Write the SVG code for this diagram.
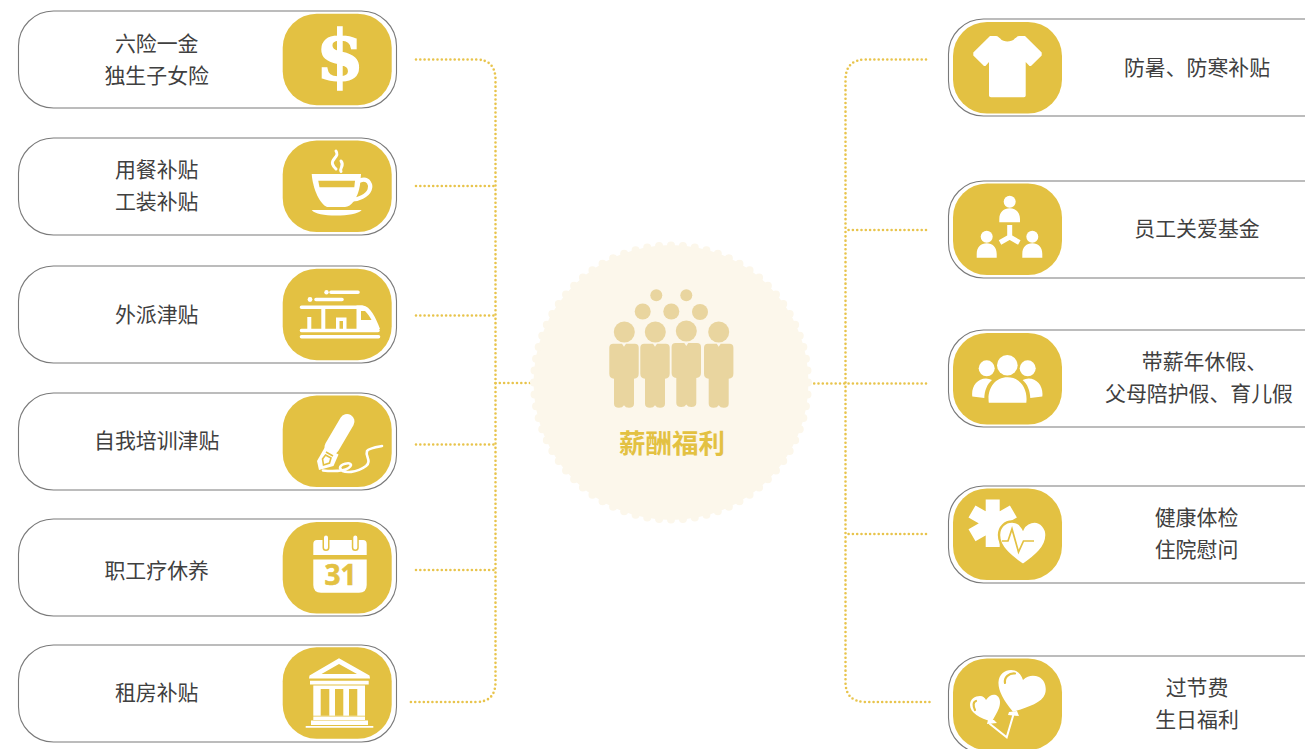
<svg xmlns="http://www.w3.org/2000/svg" width="1305" height="749" viewBox="0 0 1305 749">
<style>
.card{fill:#fff;stroke:#7a7a7a;stroke-width:1.1}
.tile{fill:#e3c142}
.lbl{font-family:"Noto Sans CJK SC","Noto Sans",sans-serif;font-size:20.9px;fill:#404040;text-anchor:middle}
.conn{fill:none;stroke:#e8c44c;stroke-width:2.6;stroke-linecap:round;stroke-dasharray:0 4.3}
.w{fill:#fff}
.ws{fill:none;stroke:#fff;stroke-linecap:round}
.g{fill:#e3c142}
.gs{fill:none;stroke:#e3c142}
</style>
<defs>
<g id="person">
<path fill="#e9d59f" d="M-10.7 0H-2L0 3 2 0H10.7Q14.7 0 14.7 4V30Q14.7 34.500 10 35V60Q10 64 5 64 1.500 64 0 61.500-1.500 64-5 64-10 64-10 60V35Q-14.700 34.500-14.700 30V4Q-14.700 0-10.700 0Z"/>
</g>
</defs>
<g id="connectors">
<path class="conn" d="M416 59.500H476Q495.500 59.500 495.500 80V682Q495.500 702 476 702H410"/>
<path class="conn" d="M416 186H495.500M416 315.500H495.500M416 444.500H495.500M416 570H495.500M495.500 383H530"/>
<path class="conn" d="M926 59.500H866Q845.500 59.500 845.500 80V682Q845.500 702 866 702H932"/>
<path class="conn" d="M926 230H845.500M926 534H845.500M926 383.500H812"/>
</g>
<g id="center">
<circle cx="671" cy="382.500" r="137.500" fill="#fcf7eb"/>
<circle cx="671" cy="382.500" r="137" fill="none" stroke="#fcf7eb" stroke-width="8" stroke-linecap="round" pathLength="72" stroke-dasharray="0 1"/>
<g fill="#e9d59f">
<circle cx="656.300" cy="295.300" r="6"/><circle cx="686.300" cy="295.300" r="6"/>
<circle cx="642.700" cy="311.500" r="8"/><circle cx="671.300" cy="311.500" r="8"/><circle cx="700" cy="312" r="8"/>
<circle cx="624.300" cy="332" r="10.500"/><circle cx="655.300" cy="332" r="10.500"/><circle cx="686.300" cy="331" r="10.500"/><circle cx="718.700" cy="332" r="10.500"/>
</g>
<use href="#person" x="624" y="343.700"/><use href="#person" x="655" y="343.700"/><use href="#person" x="686.300" y="343"/><use href="#person" x="718.700" y="343.700"/>
<text x="672" y="452.500" style="font-family:'Noto Sans CJK SC','Noto Sans',sans-serif;font-size:26.500px;font-weight:700;fill:#e3c142;text-anchor:middle">薪酬福利</text>
</g>
<g id="node-l1">
<rect class="card" x="18.500" y="11" width="378" height="97" rx="35"/>
<rect class="tile" x="282.700" y="13.700" width="109" height="91.500" rx="34"/>
<text x="340" y="80" text-anchor="middle" style="font-family:'DejaVu Serif',serif;font-weight:700;font-size:69px;fill:#fff;stroke:#fff;stroke-width:1.600">$</text>
<text class="lbl" x="156.700" y="51">六险一金</text><text class="lbl" x="156.700" y="83">独生子女险</text>
</g>
<g id="node-l2">
<rect class="card" x="18.500" y="138" width="378" height="97" rx="35"/>
<rect class="tile" x="282.700" y="140.500" width="109" height="91.500" rx="34"/>
<path class="w" d="M311.700 174H361L360 185C358 198 351 207 345 207H327C320 204 313 190 311.700 174Z"/>
<path class="g" d="M318.300 180.700H355L354.300 187.300H319.500Z"/>
<path class="ws" stroke-width="4.200" d="M360 180.500C369 177 371.500 186 369.500 190 367 196 358 199.500 353 199.500"/>
<path class="w" d="M311.700 210H361.700C358 214 348 215.500 336 215.500 324 215.500 315 214 311.700 210Z"/>
<path class="ws" stroke-width="3" d="M336 151C340 157 331 158 332.500 164 333.500 167 335 168 336 169M341 161C345 166 339 168 341 171.500"/>
<text class="lbl" x="156.700" y="177">用餐补贴</text><text class="lbl" x="156.700" y="209">工装补贴</text>
</g>
<g id="node-l3">
<rect class="card" x="18.500" y="266" width="378" height="97" rx="35"/>
<rect class="tile" x="282.700" y="268.700" width="109" height="91.500" rx="34"/>
<circle class="w" cx="326.500" cy="292.300" r="2.200"/><circle class="w" cx="310" cy="299.500" r="2.400"/>
<path class="ws" stroke-width="3.600" d="M331 292.300H358M316 299.500H342M301.500 307.300H362"/>
<path class="w" d="M356.500 305.500H363C370 306 376 318 380 329H356.500ZM307.300 317H311.300V330H307.300ZM321.300 307H325.300V330H321.300ZM336 317.500H346.500V330H343V321H339.500V330H336Z"/>
<path class="g" d="M361 311H365C368 314 370 317 371.500 320H361Z"/>
<path class="ws" stroke-width="3.600" d="M301.500 330.500H378M301.500 336.800H378.500"/>
<text class="lbl" x="156.700" y="322">外派津贴</text>
</g>
<g id="node-l4">
<rect class="card" x="18.500" y="393" width="378" height="97" rx="35"/>
<rect class="tile" x="282.700" y="395.500" width="109" height="91.500" rx="34"/>
<path d="M347 421.500L332 447" stroke="#fff" stroke-width="15" stroke-linecap="round"/>
<path class="w" d="M325 447L338.500 454.500 333.500 466 319 470 317 461Z"/>
<path class="gs" stroke-width="1.600" d="M326 452L333 456M322.500 459L325.500 455 331 458 329.500 463 323.500 465Z"/>
<path class="ws" stroke-width="2.600" d="M323 470.500C338 472 350 470 351 465 350 461.500 340 464 340 468 343 475 358 472 366 466 372 461 365 456 367 451 369 448 376 447 382 446"/>
<text class="lbl" x="156.700" y="448">自我培训津贴</text>
</g>
<g id="node-l5">
<rect class="card" x="18.500" y="519" width="378" height="97" rx="35"/>
<rect class="tile" x="282.700" y="522" width="109" height="91.500" rx="34"/>
<path class="w" d="M313.300 555V544Q313.300 540 317 540H363Q366.700 540 366.700 544V555ZM313.300 559.500H366.700V585Q366.700 592.700 359 592.700H321Q313.300 592.700 313.300 585Z"/>
<path d="M326 537.500V547.500M355.300 537.500V547.500" fill="none" stroke="#e3c142" stroke-width="7" stroke-linecap="round"/>
<path d="M326 537.500V547.500M355.300 537.500V547.500" fill="none" stroke="#fff" stroke-width="4" stroke-linecap="round"/>
<text x="340.500" y="585" text-anchor="middle" style="font-family:'Open Sans',sans-serif;font-weight:700;font-size:28px;fill:#e3c142;stroke:#e3c142;stroke-width:.6">31</text>
<text class="lbl" x="156.700" y="578">职工疗休养</text>
</g>
<g id="node-l6">
<rect class="card" x="18.500" y="645" width="378" height="97" rx="35"/>
<rect class="tile" x="282.700" y="647.300" width="109" height="91.500" rx="34"/>
<path class="w" d="M339 658.300L369.500 675.500 370 678.500H309L309.500 675.500ZM310 680.700H368.700V684.500H310ZM313.300 685.500H365V715.700H313.300ZM313.300 716.500H365V720H313.300ZM311 720.500H368V725H311ZM305.700 726H373.300V727.800H305.700Z"/>
<path class="g" d="M339 664L357 674H321.500ZM320.700 689H329.300V715.700H320.700ZM335 689H343.300V715.700H335ZM349 689H357.300V715.700H349Z"/>
<text class="lbl" x="156.700" y="700">租房补贴</text>
</g>
<g id="node-r1">
<rect class="card" x="948.500" y="19" width="400" height="97" rx="35"/>
<rect class="tile" x="953" y="22" width="109" height="91.500" rx="34"/>
<path class="w" d="M990 36H996C998 36 999 38 1000 38.300 1002 41 1005 41.500 1007.300 41.500 1010 41.500 1013 41 1015 38.300 1016 38 1017 36 1019 36H1025L1041.700 52.500V55.500L1031 66H1029.500L1025.700 62V95.500Q1025.700 97.300 1024 97.300H991Q989 97.300 989 95.500V62L985.500 66H984L973.300 55.500V52.500Z"/>
<text class="lbl" x="1197" y="75">防暑、防寒补贴</text>
</g>
<g id="node-r2">
<rect class="card" x="948.500" y="181" width="400" height="97" rx="35"/>
<rect class="tile" x="953" y="183.500" width="109" height="91.500" rx="34"/>
<circle class="w" cx="1009.700" cy="201.700" r="6"/><circle class="w" cx="986.700" cy="236.700" r="6"/><circle class="w" cx="1032.300" cy="236.700" r="6"/>
<path class="w" d="M999.300 222.300V219C999.300 212 1004 208.300 1009.700 208.300S1020 212 1020 219V222.300ZM976.700 257.700V254C976.700 247 981 243.300 986.700 243.300S996.700 247 996.700 254V257.700ZM1022.300 257.700V254C1022.300 247 1026.500 243.300 1032.300 243.300S1042.300 247 1042.300 254V257.700Z"/>
<path d="M1009.700 225V237L1000 242.500M1009.700 237L1019.300 242.500" fill="none" stroke="#fff" stroke-width="5"/>
<text class="lbl" x="1197" y="236">员工关爱基金</text>
</g>
<g id="node-r3">
<rect class="card" x="948.500" y="330" width="400" height="97" rx="35"/>
<rect class="tile" x="953" y="333" width="109" height="91.500" rx="34"/>
<circle class="w" cx="1007.300" cy="365.300" r="10.300"/><circle class="w" cx="986.700" cy="368.300" r="8"/><circle class="w" cx="1027.700" cy="368.300" r="8"/>
<path class="w" d="M988.800 402.700C987 390 994 377.300 1007.500 377.300S1028 390 1026.300 402.700ZM972.300 396.500C971 387 977 378.500 986 378.500 988 378.500 990 379 992 380 987 384 984.500 391 984.300 398ZM1042.300 396.500C1043.600 387 1037.600 378.500 1028.600 378.500 1026.600 378.500 1024.600 379 1022.600 380 1027.600 384 1030 391 1030.300 398Z"/>
<text class="lbl" x="1204.500" y="369">带薪年休假、</text><text class="lbl" x="1199" y="401">父母陪护假、育儿假</text>
</g>
<g id="node-r4">
<rect class="card" x="948.500" y="486" width="400" height="97" rx="35"/>
<rect class="tile" x="953" y="488.500" width="109" height="91.500" rx="34"/>
<path d="M992.700 499.500V547M972 511.500L1013.400 535.300M972 535.300L1013.400 511.500" stroke="#fff" stroke-width="14" fill="none"/>
<path class="w" stroke="#e3c142" stroke-width="2.400" d="M1023 565C1010 556 999 547 999 535 999 527 1005 521.500 1012 521.500 1017 521.500 1021 524.500 1023 528.500 1025 524.500 1030 521.500 1034.500 521.500 1041 521.500 1046.500 528 1046.500 535 1046.500 547 1036 556 1023 565Z"/>
<path class="gs" stroke-width="1.700" d="M1002 541H1008L1012 529 1018.500 552 1023.500 541H1034"/>
<text class="lbl" x="1196.500" y="525">健康体检</text><text class="lbl" x="1196.500" y="557">住院慰问</text>
</g>
<g id="node-r5">
<rect class="card" x="948.500" y="656" width="400" height="97" rx="35"/>
<rect class="tile" x="953" y="658.500" width="109" height="91.500" rx="34"/>
<path class="w" d="M1013 711.700C1003 700 998 690 998.500 682 999 674 1005 670 1011 670 1017 670 1021 674 1023 680 1028 675 1034 675 1039 677 1045 680 1047 688 1045 694 1042 703 1026 708 1013 711.700Z"/>
<path class="w" d="M991.700 721.700C980 718 970 713 970 705 970 699 975 696 980 696 983 696 985 698 986 700 989 695 993 694 996 695 1000 697 1001 702 999 708 997 713 994 718 991.700 721.700Z"/>
<path class="gs" stroke-width="2.200" stroke-linecap="round" d="M1005 683C1004 677 1009 673 1015 673.500M975 710C973 706 973 702 976 701"/>
<path class="w" d="M1009 712L1017 711 1019 716 1008 715ZM988 720L994 720 997 723 987 724Z"/>
<path class="ws" stroke-width="2" d="M1013.300 715L1006.700 737.300 990 724"/>
<text class="lbl" x="1197" y="695">过节费</text><text class="lbl" x="1197" y="727">生日福利</text>
</g>
</svg>
